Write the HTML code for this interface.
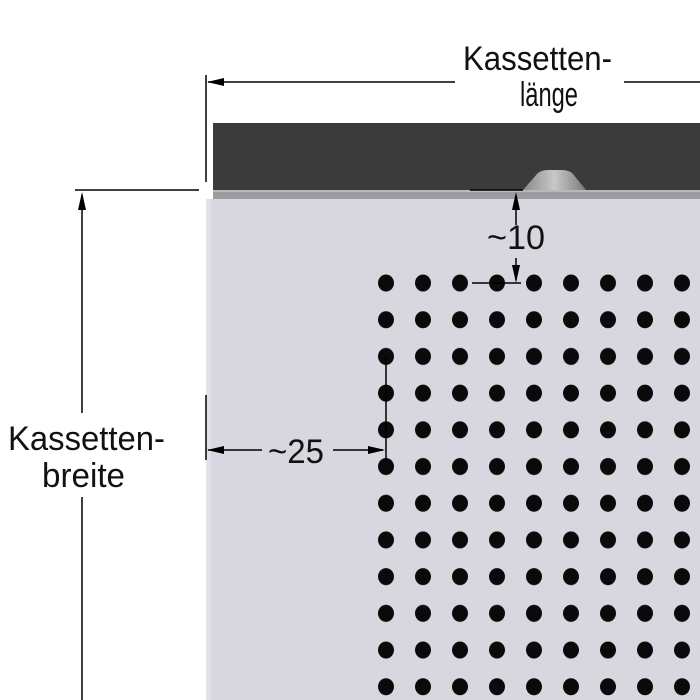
<!DOCTYPE html>
<html><head><meta charset="utf-8"><style>
html,body{margin:0;padding:0;background:#fff;width:700px;height:700px;overflow:hidden}
</style></head><body>
<svg width="700" height="700" viewBox="0 0 700 700" xmlns="http://www.w3.org/2000/svg">
<defs>
<linearGradient id="bump" x1="0" y1="0" x2="1" y2="0">
<stop offset="0" stop-color="#8a8a8a"/><stop offset="0.5" stop-color="#c8c8c8"/><stop offset="1" stop-color="#7a7a7a"/>
</linearGradient>
<pattern id="dots" x="367.5" y="264.5" width="37" height="36.7" patternUnits="userSpaceOnUse">
<ellipse cx="18.5" cy="18.5" rx="8" ry="8.5" fill="#0a0a0a"/>
</pattern>
</defs>
<rect x="206" y="199" width="494" height="501" fill="#d8d6de"/>
<rect x="206" y="199" width="5" height="501" fill="#e2e0e8"/>
<rect x="368" y="265" width="332" height="435" fill="url(#dots)"/>
<rect x="213" y="123" width="487" height="67" fill="#3b3b3b"/>
<rect x="213" y="190" width="487" height="9" fill="#9c9ca0"/>
<rect x="213" y="190" width="487" height="2" fill="#b8b8bc"/>
<path d="M523 190 L537 174 Q541 170 548 170 L562 170 Q569 170 573 174 L586 190 Z" fill="url(#bump)"/>
<g stroke="#000" stroke-width="1.5" fill="none">
<line x1="206" y1="75" x2="206" y2="182"/>
<line x1="208" y1="82" x2="455" y2="82"/>
<line x1="624" y1="82" x2="700" y2="82"/>
<line x1="75" y1="190" x2="199" y2="190"/>
<line x1="82" y1="195" x2="82" y2="413"/>
<line x1="82" y1="497" x2="82" y2="700"/>
<line x1="470" y1="190" x2="523" y2="190"/>
<line x1="516" y1="196" x2="516" y2="225"/>
<line x1="516" y1="258" x2="516" y2="280"/>
<line x1="472" y1="283" x2="521" y2="283"/>
<line x1="206" y1="395" x2="206" y2="460"/>
<line x1="208" y1="450" x2="262" y2="450"/>
<line x1="333" y1="450" x2="383" y2="450"/>
<line x1="386" y1="357" x2="386" y2="462"/>
</g>
<g fill="#000">
<path d="M207 82 L224 78 L224 86 Z"/>
<path d="M82 192 L78 210 L86 210 Z"/>
<path d="M516 192 L512 210 L520 210 Z"/>
<path d="M516 283 L512 265 L520 265 Z"/>
<path d="M207 450 L224 446 L224 454 Z"/>
<path d="M385 450 L368 446 L368 454 Z"/>
</g>
<g font-family="'Liberation Sans', 'DejaVu Sans', sans-serif" font-size="34" fill="#111">
<text x="463" y="70" textLength="149" lengthAdjust="spacingAndGlyphs">Kassetten-</text>
<text x="520" y="106" textLength="58" lengthAdjust="spacingAndGlyphs">länge</text>
<text x="8" y="450" textLength="157" lengthAdjust="spacingAndGlyphs">Kassetten-</text>
<text x="42" y="487" textLength="83" lengthAdjust="spacingAndGlyphs">breite</text>
<text x="487" y="249" textLength="58" lengthAdjust="spacingAndGlyphs">~10</text>
<text x="268" y="463" textLength="56" lengthAdjust="spacingAndGlyphs">~25</text>
</g>
</svg>
</body></html>
